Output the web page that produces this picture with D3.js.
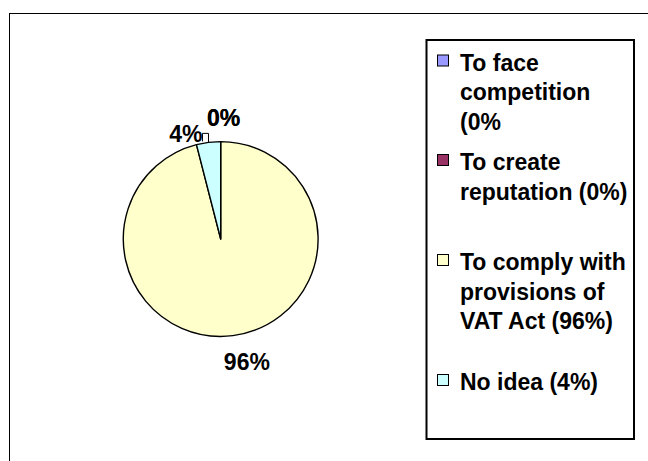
<!DOCTYPE html>
<html>
<head>
<meta charset="utf-8">
<script src="https://cdn.jsdelivr.net/npm/d3@7"></script>
<style>
  html, body { margin: 0; padding: 0; background: #ffffff; }
  svg { display: block; }
  text { font-family: "Liberation Sans", Arial, sans-serif; font-weight: bold; fill: #000; }
</style>
</head>
<body>
<svg id="chart" width="648" height="461"></svg>
<script>
// Reasons for registering under VAT
const categories = [
  "To face competition (0%",
  "To create reputation (0%)",
  "To comply with provisions of VAT Act (96%)",
  "No idea (4%)"
];
// Legend text, wrapped the way the legend shows it
const legendLines = [
  ["To face", "competition", "(0%"],
  ["To create", "reputation (0%)"],
  ["To comply with", "provisions of", "VAT Act (96%)"],
  ["No idea (4%)"]
];
const values = [0, 0, 96, 4];
const pieLabels = ["0%", "0%", "96%", "4%"];
const colors = ["#9999FF", "#993366", "#FFFFCC", "#CCFFFF"];

// Layout
const W = 648, H = 461;
const cx = 220.7, cy = 239, radius = 97.4;
const fontSize = 23;
const lineStep = 29.5;
// label placement relative to the slice's outer mid-arc point
const labelPlacement = [
  { anchor: "middle", dx: 3, dy: -16 },
  { anchor: "middle", dx: 3, dy: -16 },
  { anchor: "middle", dx: 14, dy: 34 },
  { anchor: "end", dx: -6, dy: -0.5 }
];
const legendBox = { x: 426.5, y: 40, w: 207.5, h: 399 };
const legendFirstBaselines = [70.5, 170, 270, 390];

const svg = d3.select("#chart");

// outer chart-area frame (continues beyond the visible window)
svg.append("rect")
  .attr("x", 9.5).attr("y", 13.5)
  .attr("width", W + 20).attr("height", H + 20)
  .attr("fill", "none").attr("stroke", "#000").attr("stroke-width", 1);

const pie = d3.pie().sort(null).value(d => d)
  .startAngle(0).endAngle(2 * Math.PI);
const arcs = pie(values);
const arc = d3.arc().innerRadius(0).outerRadius(radius);

const g = svg.append("g").attr("transform", `translate(${cx},${cy})`);

g.selectAll("path.slice")
  .data(arcs)
  .join("path")
  .attr("class", "slice")
  .attr("d", arc)
  .attr("fill", (d, i) => colors[i])
  .attr("stroke", "#000")
  .attr("stroke-width", 1.4)
  .attr("stroke-linejoin", "round");

// point on the rim at a slice's middle angle
function rimPoint(d, r) {
  const a = (d.startAngle + d.endAngle) / 2;
  return [r * Math.sin(a), -r * Math.cos(a)];
}

// leader line from the "No idea" label to its slice
{
  const d = arcs[3];
  const [px, py] = rimPoint(d, radius);
  g.append("path")
    .attr("d", `M${px - 6},${py - 1}V${py - 9}H${px}V${py}`)
    .attr("fill", "none")
    .attr("stroke", "#000")
    .attr("stroke-width", 1);
}

g.selectAll("text.pct")
  .data(arcs)
  .join("text")
  .attr("class", "pct")
  .attr("font-size", fontSize)
  .attr("text-anchor", (d, i) => labelPlacement[i].anchor)
  .attr("x", (d, i) => rimPoint(d, radius)[0] + labelPlacement[i].dx)
  .attr("y", (d, i) => rimPoint(d, radius)[1] + labelPlacement[i].dy)
  .text((d, i) => pieLabels[i]);

// legend
svg.append("rect")
  .attr("x", legendBox.x).attr("y", legendBox.y)
  .attr("width", legendBox.w).attr("height", legendBox.h)
  .attr("fill", "#fff").attr("stroke", "#000").attr("stroke-width", 2);

const entries = svg.selectAll("g.entry")
  .data(categories)
  .join("g")
  .attr("class", "entry")
  .attr("transform", (d, i) => `translate(0,${legendFirstBaselines[i]})`);

entries.append("rect")
  .attr("x", 437.5).attr("y", -15.5)
  .attr("width", 11).attr("height", 11)
  .attr("fill", (d, i) => colors[i])
  .attr("stroke", "#000").attr("stroke-width", 1);

entries.append("text")
  .attr("font-size", fontSize)
  .attr("x", 460)
  .selectAll("tspan")
  .data((d, i) => legendLines[i])
  .join("tspan")
  .attr("x", 460)
  .attr("y", (d, j) => j * lineStep)
  .text(d => d);
</script>
</body>
</html>
